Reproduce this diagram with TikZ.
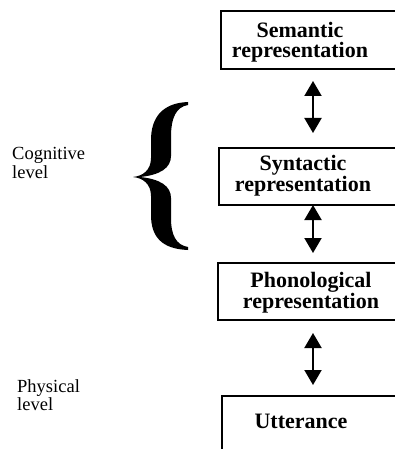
\documentclass[tikz,border=0pt]{standalone}
\usepackage{fontspec}
\setmainfont{Liberation Serif}
\usetikzlibrary{arrows.meta}
\begin{document}
\begin{tikzpicture}[x=1pt,y=-1pt,
  box/.style={draw, line width=2.8pt, anchor=north west, inner sep=0pt, outer sep=0pt, minimum width=200pt},
  ttl/.style={font=\fontsize{22}{20.5}\selectfont\bfseries, align=center, anchor=base, inner sep=0pt},
  lvl/.style={font=\fontsize{18.5}{18}\selectfont, align=left, anchor=base west, inner sep=0pt},
  dbl/.style={line width=2pt, {Triangle[width=17pt,length=15pt]}-{Triangle[width=17pt,length=15pt]}}
]
\useasboundingbox (0,0) rectangle (395,449);
\clip (0,0) rectangle (395,449);
\coordinate (ax) at (313,0);
% boxes
\node[box, minimum height=58pt] (sem) at (221,11) {};
\node[box, minimum height=57pt] (syn) at (219,148) {};
\node[box, minimum height=57pt] (pho) at (218,263) {};
\node[box, minimum height=80pt] (utt) at (222,396) {};
% box texts (anchor base = last line's baseline)
\node[ttl] (semt) at (300,58) {Semantic\\representation};
\node[ttl] (synt) at (303,191) {Syntactic\\representation};
\node[ttl] (phot) at (311,308) {Phonological\\representation};
\node[ttl] (uttt) at (301,428) {Utterance};
% arrows
\draw[dbl, shorten <=12pt, shorten >=15pt] (sem.south -| ax) -- (syn.north -| ax);
\draw[dbl, shorten >=10pt] (syn.south -| ax) -- (pho.north -| ax);
\draw[dbl, shorten <=13pt, shorten >=11pt] (pho.south -| ax) -- (utt.north -| ax);
% level labels
\node[lvl] (cog) at (12,178) {Cognitive\\level};
\node[lvl] (phy) at (17,410) {Physical\\level};
% brace
\fill (188,102) .. controls (162,103) and (151,118) .. (151,140)
 -- (151,158) .. controls (151,170) and (143,176) .. (133,177)
 .. controls (143,178) and (151,184) .. (151,196)
 -- (151,215) .. controls (151,237) and (162,249) .. (188,250)
 -- (188,247) .. controls (176,245) and (171,235) .. (171,218)
 -- (171,198) .. controls (171,186) and (160,179) .. (140,177)
 .. controls (160,175) and (171,168) .. (171,156)
 -- (171,137) .. controls (171,118) and (176,107) .. (188,105) -- cycle;
\end{tikzpicture}
\end{document}
